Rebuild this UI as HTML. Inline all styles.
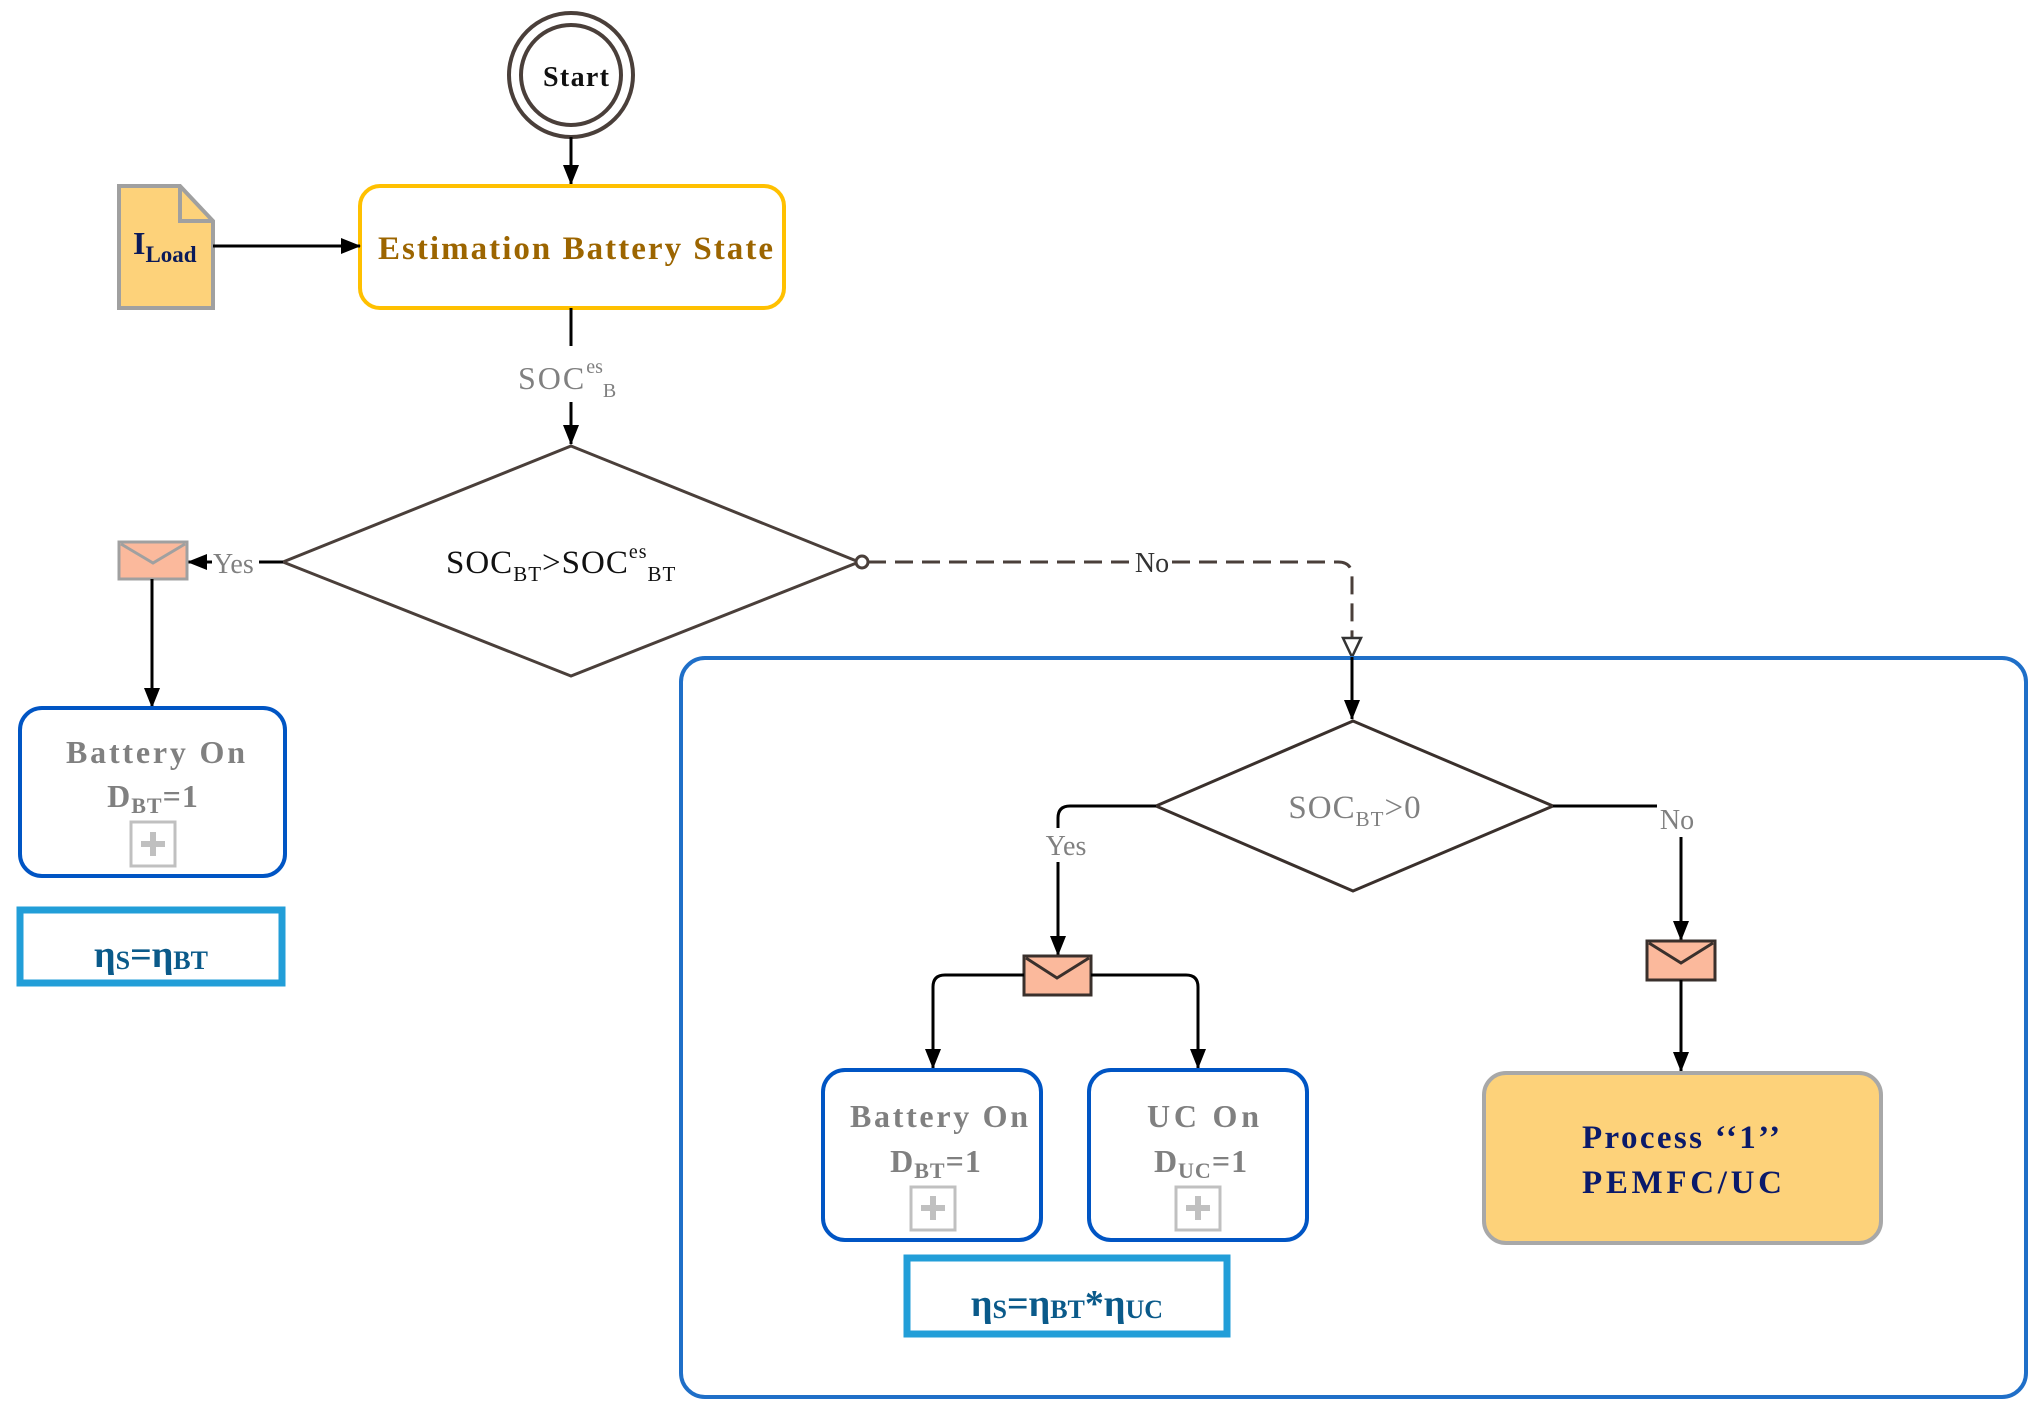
<!DOCTYPE html>
<html><head><meta charset="utf-8"><style>
body{margin:0;background:#fff}
svg{display:block}
text{font-family:"Liberation Serif",serif}
.b{font-weight:bold}
</style></head><body>
<svg width="2033" height="1405" viewBox="0 0 2033 1405" xmlns="http://www.w3.org/2000/svg">
<defs>
<marker id="ab" markerWidth="20" markerHeight="20" refX="19" refY="10" orient="auto" markerUnits="userSpaceOnUse" viewBox="0 0 20 20"><path d="M0,2 L20,10 L0,18z" fill="#000"/></marker>
</defs>
<!-- Start -->
<circle cx="571" cy="75" r="62" fill="none" stroke="#4a3f3a" stroke-width="4"/>
<circle cx="571" cy="75" r="50" fill="none" stroke="#4a3f3a" stroke-width="4"/>
<text class="b" x="543" y="86" font-size="28" textLength="66" fill="#111">Start</text>
<line x1="571" y1="137" x2="571" y2="184" stroke="#000" stroke-width="3" marker-end="url(#ab)"/>
<!-- Estimation box -->
<rect x="360" y="186" width="424" height="122" rx="20" fill="#fff" stroke="#ffc000" stroke-width="4"/>
<text class="b" x="378" y="259" font-size="33" textLength="395" fill="#9c6500">Estimation Battery State</text>
<!-- ILoad -->
<path d="M119,186 L180,186 L213,221 L213,308 L119,308 Z" fill="#fdd27a" stroke="#a0a0a0" stroke-width="4"/>
<path d="M180,186 L180,221 L213,221" fill="none" stroke="#a0a0a0" stroke-width="4"/>
<text class="b" x="133" y="254" font-size="32" fill="#0a1a5a">I<tspan font-size="23" dy="8">Load</tspan></text>
<line x1="213" y1="246" x2="360" y2="246" stroke="#000" stroke-width="3" marker-end="url(#ab)"/>
<line x1="571" y1="308" x2="571" y2="346" stroke="#000" stroke-width="3"/>
<text x="518" y="389" font-size="32" fill="#808080" letter-spacing="2">SOC<tspan font-size="20" dy="-16" letter-spacing="0">es</tspan><tspan font-size="20" dy="24">B</tspan></text>
<line x1="571" y1="402" x2="571" y2="444" stroke="#000" stroke-width="3" marker-end="url(#ab)"/>
<!-- Diamond 1 -->
<polygon points="571,446 859,562 571,676 283,562" fill="#fff" stroke="#4a3f3a" stroke-width="3"/>
<text x="446" y="573" font-size="33" fill="#111" letter-spacing="1">SOC<tspan font-size="21" dy="8">BT</tspan><tspan dy="-8">&gt;SOC</tspan><tspan font-size="20" dy="-15">es</tspan><tspan font-size="21" dy="23">BT</tspan></text>
<!-- Yes left -->
<line x1="283" y1="562" x2="259" y2="562" stroke="#000" stroke-width="3"/>
<text x="213" y="573" font-size="28" fill="#808080">Yes</text>
<line x1="212" y1="562" x2="188" y2="562" stroke="#000" stroke-width="3" marker-end="url(#ab)"/>
<rect x="119" y="542" width="68" height="37" fill="#fbb99c" stroke="#a0a0a0" stroke-width="3"/>
<path d="M121,544 L153,563 L185,544" fill="none" stroke="#a0a0a0" stroke-width="3"/>
<line x1="152" y1="579" x2="152" y2="707" stroke="#000" stroke-width="3" marker-end="url(#ab)"/>
<rect x="20" y="708" width="265" height="168" rx="22" fill="#fff" stroke="#0055c4" stroke-width="4"/>
<text class="b" x="66" y="763" font-size="32" textLength="179" fill="#808080">Battery On</text>
<text class="b" x="153" y="807" font-size="32" text-anchor="middle" fill="#808080" letter-spacing="1">D<tspan font-size="22" dy="6">BT</tspan><tspan dy="-6">=1</tspan></text>
<rect x="131" y="822" width="44" height="44" fill="none" stroke="#c0c0c0" stroke-width="3"/>
<path d="M141,844 h24 M153,832 v24" stroke="#c0c0c0" stroke-width="6"/>
<rect x="20" y="910" width="262" height="73" fill="#fff" stroke="#229ed8" stroke-width="7"/>
<text class="b" x="151" y="967" font-size="38" text-anchor="middle" fill="#0a5a8a">η<tspan font-size="26" dy="2">S</tspan><tspan dy="-2">=η</tspan><tspan font-size="26" dy="2">BT</tspan></text>
<!-- No dashed -->
<circle cx="862" cy="562" r="6" fill="#fff" stroke="#4a3f3a" stroke-width="3"/>
<path d="M868,562 H1132" stroke="#4a3f3a" stroke-width="3" stroke-dasharray="18,9" fill="none"/>
<text x="1152" y="572" font-size="28" text-anchor="middle" fill="#333">No</text>
<path d="M1172,562 H1338 Q1352,562 1352,576 V638" stroke="#4a3f3a" stroke-width="3" stroke-dasharray="18,9" fill="none"/>
<polygon points="1343,638 1361,638 1352,657" fill="#fff" stroke="#333" stroke-width="2.5"/>
<!-- Container -->
<rect x="681" y="658" width="1345" height="739" rx="24" fill="none" stroke="#1f6fc8" stroke-width="4"/>
<line x1="1352" y1="657" x2="1352" y2="719" stroke="#000" stroke-width="3" marker-end="url(#ab)"/>
<!-- Diamond 2 -->
<polygon points="1353,721 1553,806 1353,891 1156,806" fill="#fff" stroke="#3a302c" stroke-width="3"/>
<text x="1355" y="818" font-size="33" text-anchor="middle" fill="#808080" letter-spacing="1">SOC<tspan font-size="21" dy="8">BT</tspan><tspan dy="-8">&gt;0</tspan></text>
<path d="M1156,806 H1070 Q1058,806 1058,818 V828" stroke="#000" stroke-width="3" fill="none"/>
<text x="1066" y="855" font-size="28" text-anchor="middle" fill="#808080">Yes</text>
<line x1="1058" y1="862" x2="1058" y2="955" stroke="#000" stroke-width="3" marker-end="url(#ab)"/>
<rect x="1024" y="956" width="67" height="39" fill="#fbb99c" stroke="#3a302c" stroke-width="3"/>
<path d="M1026,958 L1057,978 L1089,958" fill="none" stroke="#3a302c" stroke-width="3"/>
<path d="M1024,975 H945 Q933,975 933,987 V1068" stroke="#000" stroke-width="3" fill="none" marker-end="url(#ab)"/>
<path d="M1091,975 H1186 Q1198,975 1198,987 V1068" stroke="#000" stroke-width="3" fill="none" marker-end="url(#ab)"/>
<rect x="823" y="1070" width="218" height="170" rx="22" fill="#fff" stroke="#0055c4" stroke-width="4"/>
<text class="b" x="850" y="1127" font-size="32" textLength="178" fill="#808080">Battery On</text>
<text class="b" x="936" y="1172" font-size="32" text-anchor="middle" fill="#808080" letter-spacing="1">D<tspan font-size="22" dy="6">BT</tspan><tspan dy="-6">=1</tspan></text>
<rect x="911" y="1187" width="44" height="43" fill="none" stroke="#c0c0c0" stroke-width="3"/>
<path d="M921,1208 h24 M933,1196 v24" stroke="#c0c0c0" stroke-width="6"/>
<rect x="1089" y="1070" width="218" height="170" rx="22" fill="#fff" stroke="#0055c4" stroke-width="4"/>
<text class="b" x="1147" y="1127" font-size="32" textLength="112" fill="#808080">UC On</text>
<text class="b" x="1201" y="1172" font-size="32" text-anchor="middle" fill="#808080" letter-spacing="1">D<tspan font-size="22" dy="6">UC</tspan><tspan dy="-6">=1</tspan></text>
<rect x="1176" y="1187" width="44" height="43" fill="none" stroke="#c0c0c0" stroke-width="3"/>
<path d="M1186,1208 h24 M1198,1196 v24" stroke="#c0c0c0" stroke-width="6"/>
<rect x="907" y="1258" width="320" height="76" fill="#fff" stroke="#229ed8" stroke-width="7"/>
<text class="b" x="1067" y="1316" font-size="38" text-anchor="middle" fill="#0a5a8a">η<tspan font-size="26" dy="2">S</tspan><tspan dy="-2">=η</tspan><tspan font-size="26" dy="2">BT</tspan><tspan dy="-2">*η</tspan><tspan font-size="26" dy="2">UC</tspan></text>
<!-- No branch -->
<line x1="1553" y1="806" x2="1657" y2="806" stroke="#000" stroke-width="3"/>
<text x="1677" y="829" font-size="28" text-anchor="middle" fill="#808080">No</text>
<line x1="1681" y1="837" x2="1681" y2="940" stroke="#000" stroke-width="3" marker-end="url(#ab)"/>
<rect x="1647" y="941" width="68" height="39" fill="#fbb99c" stroke="#3a302c" stroke-width="3"/>
<path d="M1649,943 L1681,963 L1713,943" fill="none" stroke="#3a302c" stroke-width="3"/>
<line x1="1681" y1="980" x2="1681" y2="1071" stroke="#000" stroke-width="3" marker-end="url(#ab)"/>
<rect x="1484" y="1073" width="397" height="170" rx="22" fill="#fdd27a" stroke="#a8a8a8" stroke-width="4"/>
<text class="b" x="1582" y="1148" font-size="33" textLength="198" fill="#0a1a6a">Process ‘‘1’’</text>
<text class="b" x="1582" y="1193" font-size="33" textLength="200" fill="#0a1a6a">PEMFC/UC</text>
</svg>
</body></html>
